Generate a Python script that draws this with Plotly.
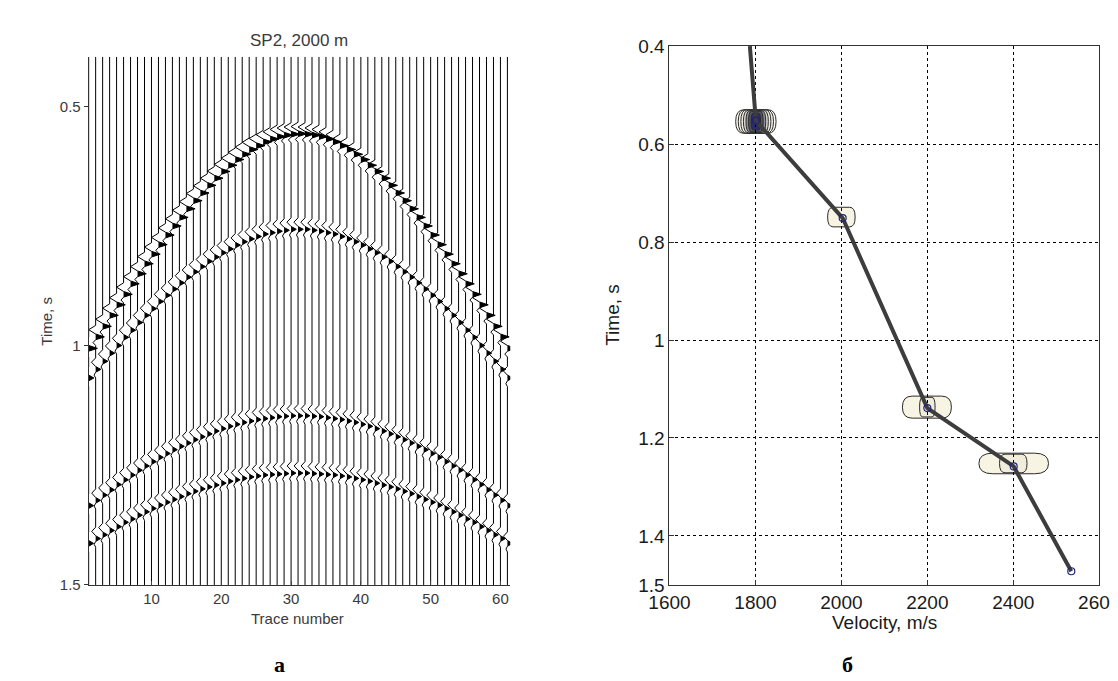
import plotly.graph_objects as go

# ---------------- Left panel data: seismogram SP2 ----------------
trace_numbers = list(range(1, 62))

# arrival times (s) of the four reflections on each trace
event1_t = [0.999, 0.975, 0.953, 0.930, 0.908, 0.886, 0.864, 0.843, 0.822, 0.802, 0.782,
            0.762, 0.743, 0.725, 0.707, 0.690, 0.674, 0.658, 0.643, 0.629, 0.616,
            0.604, 0.593, 0.583, 0.575, 0.567, 0.561, 0.556, 0.553, 0.551, 0.550,
            0.551, 0.553, 0.556, 0.561, 0.567, 0.575, 0.583, 0.593, 0.604, 0.616,
            0.629, 0.643, 0.658, 0.674, 0.690, 0.707, 0.725, 0.743, 0.762, 0.782,
            0.802, 0.822, 0.843, 0.864, 0.886, 0.908, 0.930, 0.953, 0.975, 0.999]
event2_t = [1.061, 1.043, 1.026, 1.009, 0.993, 0.976, 0.961, 0.945, 0.930, 0.916, 0.901,
            0.888, 0.875, 0.862, 0.850, 0.839, 0.828, 0.817, 0.808, 0.799, 0.791,
            0.783, 0.776, 0.770, 0.765, 0.760, 0.757, 0.754, 0.752, 0.750, 0.750,
            0.750, 0.752, 0.754, 0.757, 0.760, 0.765, 0.770, 0.776, 0.783, 0.791,
            0.799, 0.808, 0.817, 0.828, 0.839, 0.850, 0.862, 0.875, 0.888, 0.901,
            0.916, 0.930, 0.945, 0.961, 0.976, 0.993, 1.009, 1.026, 1.043, 1.061]
event3_t = [1.328, 1.317, 1.306, 1.295, 1.284, 1.274, 1.264, 1.254, 1.245, 1.236, 1.227,
            1.219, 1.211, 1.204, 1.197, 1.190, 1.184, 1.178, 1.172, 1.167, 1.162,
            1.158, 1.154, 1.151, 1.148, 1.146, 1.144, 1.142, 1.141, 1.140, 1.140,
            1.140, 1.141, 1.142, 1.144, 1.146, 1.148, 1.151, 1.154, 1.158, 1.162,
            1.167, 1.172, 1.178, 1.184, 1.190, 1.197, 1.204, 1.211, 1.219, 1.227,
            1.236, 1.245, 1.254, 1.264, 1.274, 1.284, 1.295, 1.306, 1.317, 1.328]
event4_t = [1.407, 1.397, 1.389, 1.380, 1.372, 1.363, 1.356, 1.348, 1.341, 1.334, 1.327,
            1.321, 1.315, 1.309, 1.303, 1.298, 1.293, 1.289, 1.285, 1.281, 1.277,
            1.274, 1.271, 1.268, 1.266, 1.264, 1.263, 1.262, 1.261, 1.260, 1.260,
            1.260, 1.261, 1.262, 1.263, 1.264, 1.266, 1.268, 1.271, 1.274, 1.277,
            1.281, 1.285, 1.289, 1.293, 1.298, 1.303, 1.309, 1.315, 1.321, 1.327,
            1.334, 1.341, 1.348, 1.356, 1.363, 1.372, 1.380, 1.389, 1.397, 1.407]
event_amplitude = [1.25, 0.75, 0.7, 0.7]   # in trace-spacing units

# wavelet shape (time offset from arrival, s / normalised amplitude)
wavelet_dt = [-0.018, -0.009, 0.0, 0.006, 0.012, 0.018, 0.024]
wavelet_amp = [0.0, -0.8, 0.0, 1.0, 0.0, -0.3, 0.0]

record_start, record_end = 0.395, 1.5

# ---------------- Right panel data: velocity analysis ----------------
pick_velocity = [1801, 2003, 2200, 2401, 2535]
pick_time = [0.552, 0.751, 1.139, 1.258, 1.472]
curve_velocity = [1787, 1801, 2003, 2200, 2401, 2535]
curve_time = [0.400, 0.552, 0.751, 1.139, 1.258, 1.472]

# semblance contours: centre, half-width in velocity, half-height in time, fill
contour_v = [1801, 1801, 1801, 1801, 1801, 1801, 1801, 2000, 2199, 2200, 2401, 2400]
contour_t = [0.554, 0.554, 0.554, 0.554, 0.554, 0.554, 0.554, 0.749, 1.137, 1.137, 1.252, 1.252]
contour_dv = [47, 41, 35, 29, 23, 17, 11, 32, 57, 18, 81, 32]
contour_dt = [0.024, 0.024, 0.024, 0.023, 0.022, 0.021, 0.017, 0.020, 0.0225, 0.020, 0.021, 0.019]
contour_fill = ["#fbf9f1", "#f6f3e8", "#eeebe0", "#d8d6d0", "#8e8e92", "#55555f", "#2c2c6c",
                "#f7f4e4", "#f7f4e4", "#f1eddb", "#f7f4e4", "#f1eddb"]

vel_ticks = [1600, 1800, 2000, 2200, 2400, 2600]
time_ticks_right = [0.4, 0.6, 0.8, 1.0, 1.2, 1.4, 1.5]
time_ticks_left = [0.5, 1.0, 1.5]
trace_ticks = [10, 20, 30, 40, 50, 60]

# ---------------- build figure ----------------
W, H = 1118, 681
fig = go.Figure()

events = [event1_t, event2_t, event3_t, event4_t]
wx, wy, fx, fy = [], [], [], []
for i, xn in enumerate(trace_numbers):
    wx.append(xn); wy.append(record_start)
    for e, times in enumerate(events):
        ta = times[i]
        g = event_amplitude[e]
        for dt, a in zip(wavelet_dt, wavelet_amp):
            wx.append(xn + g * a); wy.append(ta + dt)
        # positive lobes -> black fill
        k = 0
        n = len(wavelet_amp)
        while k < n:
            if wavelet_amp[k] > 0:
                s = k - 1
                while k < n and wavelet_amp[k] > 0:
                    k += 1
                for j in range(s, min(k + 1, n)):
                    fx.append(xn + g * max(wavelet_amp[j], 0.0)); fy.append(ta + wavelet_dt[j])
                fx.append(None); fy.append(None)
            else:
                k += 1
    wx.append(xn); wy.append(record_end)
    wx.append(None); wy.append(None)

fig.add_trace(go.Scatter(x=fx, y=fy, mode="lines", fill="toself", fillcolor="black",
                         line=dict(width=0, color="black"), xaxis="x", yaxis="y",
                         hoverinfo="skip", showlegend=False))
fig.add_trace(go.Scatter(x=wx, y=wy, mode="lines", line=dict(width=1, color="black"),
                         xaxis="x", yaxis="y", hoverinfo="skip", showlegend=False))

# right panel: contour outlines as rounded boxes in data coordinates
def rounded_box(v0, t0, dv, dtt):
    rx = 0.4 * dv
    a, b = v0 - dv, v0 + dv
    c, d = t0 - dtt, t0 + dtt
    return (f"M {a + rx},{c} L {b - rx},{c} Q {b},{c} {b},{t0} "
            f"Q {b},{d} {b - rx},{d} L {a + rx},{d} Q {a},{d} {a},{t0} "
            f"Q {a},{c} {a + rx},{c} Z")

shapes = []
for v0, t0, dv, dtt, fc in zip(contour_v, contour_t, contour_dv, contour_dt, contour_fill):
    shapes.append(dict(type="path", xref="x2", yref="y2", path=rounded_box(v0, t0, dv, dtt),
                       fillcolor=fc, line=dict(color="#2a2a2a", width=1), layer="below"))

fig.add_trace(go.Scatter(x=curve_velocity, y=curve_time, mode="lines",
                         line=dict(color="#3d3d3d", width=4), xaxis="x2", yaxis="y2",
                         showlegend=False))
fig.add_trace(go.Scatter(x=pick_velocity, y=pick_time, mode="markers",
                         marker=dict(symbol="circle-open", size=7, color="#22227a",
                                     line=dict(width=1.2, color="#22227a")),
                         xaxis="x2", yaxis="y2", showlegend=False))

def px(x):
    return x / W

def py(y):
    return 1 - y / H

left_font = dict(family="Liberation Sans, Arial, sans-serif", size=15, color="#3a3a3a")
right_font = dict(family="Liberation Sans, Arial, sans-serif", size=19, color="#1a1a1a")

fig.update_layout(
    width=W, height=H, margin=dict(l=0, r=0, t=0, b=0),
    paper_bgcolor="white", plot_bgcolor="white",
    shapes=shapes,
    xaxis=dict(domain=[px(62), px(500)], range=[1, 61.4], tickvals=trace_ticks,
               ticks="inside", ticklen=4, showline=True, linecolor="#333", linewidth=1,
               showgrid=False, zeroline=False, tickfont=left_font, anchor="y"),
    yaxis=dict(domain=[py(585), py(40)], range=[1.5, 0.395], tickvals=time_ticks_left,
               ticktext=["0.5", "1", "1.5"], ticks="outside", ticklen=4, tickcolor="#333",
               showline=True, linecolor="#333", linewidth=1, showgrid=False, zeroline=False,
               tickfont=left_font, anchor="x"),
    xaxis2=dict(domain=[px(665.5), px(1112)], range=[1600, 2600], tickvals=vel_ticks,
                ticks="inside", ticklen=5, tickcolor="#333", showline=True, mirror=True,
                linecolor="#333", linewidth=1, showgrid=True, gridcolor="black",
                gridwidth=1, griddash="3px,3px", zeroline=False, tickfont=right_font,
                ticklabeloverflow="allow", anchor="y2"),
    yaxis2=dict(domain=[py(585), py(29)], range=[1.5, 0.4], tickvals=time_ticks_right,
                ticktext=["0.4", "0.6", "0.8", "1", "1.2", "1.4", "1.5"],
                ticks="inside", ticklen=5, tickcolor="#333", showline=True, mirror=True,
                linecolor="#333", linewidth=1, showgrid=True, gridcolor="black",
                gridwidth=1, griddash="3px,3px", zeroline=False, tickfont=right_font,
                anchor="x2"),
)

ann = [
    dict(text="SP2, 2000 m", x=px(281), y=py(23), font=dict(left_font, size=17)),
    dict(text="Trace number", x=px(279), y=py(620), font=left_font),
    dict(text="Time, s", x=px(18), y=py(313), font=left_font, textangle=-90),
    dict(text="Velocity, m/s", x=px(889), y=py(624), font=right_font),
    dict(text="Time, s", x=px(606), y=py(306), font=right_font, textangle=-90),
    dict(text="<b>а</b>", x=px(260), y=py(667),
         font=dict(family="Liberation Serif, Times New Roman, serif", size=22, color="black")),
    dict(text="<b>б</b>", x=px(850), y=py(667),
         font=dict(family="Liberation Serif, Times New Roman, serif", size=22, color="black")),
]
for a in ann:
    a.update(xref="paper", yref="paper", showarrow=False, xanchor="center", yanchor="middle")
fig.update_layout(annotations=ann)

fig.write_html("out.html")
